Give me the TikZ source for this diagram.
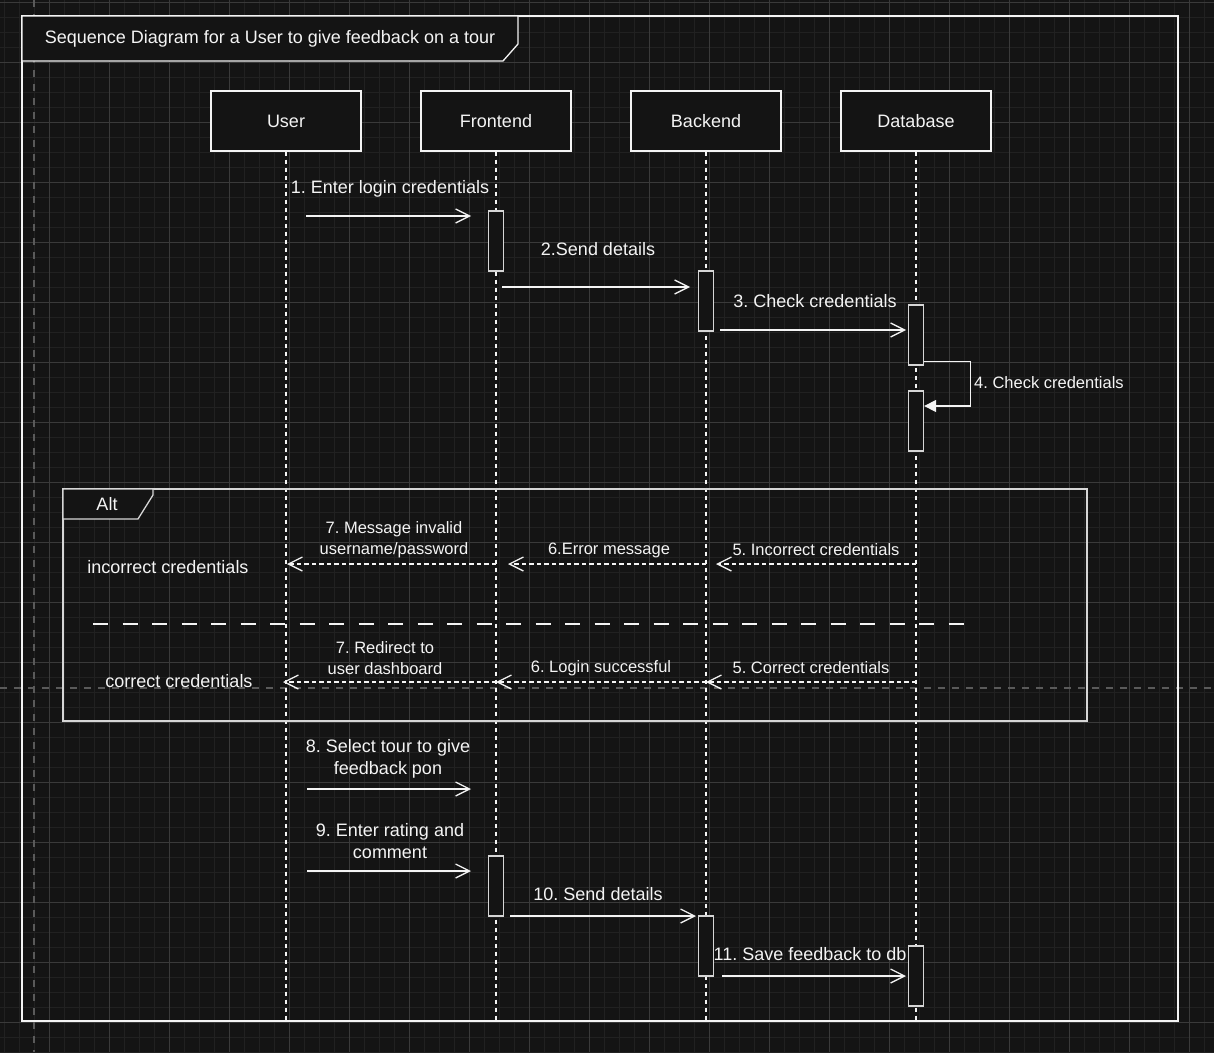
\documentclass[tikz,border=0pt]{standalone}
\usepackage{fontspec}
\setmainfont{Liberation Sans}
\usetikzlibrary{arrows.meta}
\frenchspacing
\definecolor{bg}{HTML}{141414}
\definecolor{gridminor}{HTML}{212121}
\definecolor{gridmajor}{HTML}{3A3A3A}
\definecolor{guide}{HTML}{5A5A5A}
\definecolor{ink}{HTML}{F4F4F4}
\definecolor{softink}{HTML}{D6D6D6}
\newcommand{\bigtext}{\fontsize{18}{21.5}\selectfont}
\newcommand{\smalltext}{\fontsize{16.5}{21}\selectfont}
\tikzset{
  minorline/.style={draw=gridminor, line width=1pt},
  majorline/.style={draw=gridmajor, line width=1pt},
  guideline/.style={draw=guide, line width=1.2pt, dash pattern=on 7pt off 7pt},
  participant/.style={draw=ink, fill=bg, line width=1.3pt, minimum width=150pt,
    minimum height=60pt, inner sep=0pt, text=ink, font=\bigtext},
  lifeline/.style={draw=ink, line width=1.3pt, dash pattern=on 4pt off 4pt},
  actbar/.style={draw=softink, fill=bg, line width=1.3pt, minimum width=15pt,
    minimum height=60pt, inner sep=0pt},
  msg/.style={draw=ink, line width=1.3pt, -{Straight Barb[length=14pt,width=14pt]}},
  reply/.style={draw=ink, line width=1.3pt, dash pattern=on 4.5pt off 3pt,
    -{Straight Barb[length=14pt,width=14pt]}},
  selfmsg/.style={draw=ink, line width=1.3pt, -{Triangle[length=12pt,width=12pt]}},
  lbl/.style={text=ink, inner sep=0pt, font=\bigtext, align=center},
  slbl/.style={text=ink, inner sep=0pt, font=\smalltext, align=center},
}
\begin{document}
\begin{tikzpicture}[x=1pt,y=-1pt]
% canvas and grid
\fill[bg] (0,0) rectangle (1214,1052);
\useasboundingbox (0,0) rectangle (1214,1052);
\foreach \x in {4,19,...,1214} \draw[minorline] (\x,0) -- (\x,1052);
\foreach \y in {2,17,...,1052} \draw[minorline] (0,\y) -- (1214,\y);
\foreach \x in {49,109,...,1214} \draw[majorline] (\x,0) -- (\x,1052);
\foreach \y in {2,62,...,1052} \draw[majorline] (0,\y) -- (1214,\y);
\draw[guideline] (34,0) -- (34,1052);
\draw[guideline] (0,688) -- (1214,688);

% outer frame and its title tab
\draw[draw=ink, line width=1.3pt] (22,16) rectangle (1178,1021);
\draw[draw=ink, fill=bg, line width=1.3pt] (22,16) -- (518,16) -- (518,44) -- (503,61) -- (22,61) -- cycle;
\node[lbl] (title) at (270,39) {Sequence Diagram for a User to give feedback on a tour};

% participants and lifelines
\node[participant] (user) at (286,121) {User};
\node[participant] (front) at (496,121) {Frontend};
\node[participant] (back) at (706,121) {Backend};
\node[participant] (db) at (916,121) {Database};
\coordinate (userEnd) at (286,1021);
\coordinate (frontEnd) at (496,1021);
\coordinate (backEnd) at (706,1021);
\coordinate (dbEnd) at (916,1021);
\draw[lifeline] (user.south) -- (userEnd);
\draw[lifeline] (front.south) -- (frontEnd);
\draw[lifeline] (back.south) -- (backEnd);
\draw[lifeline] (db.south) -- (dbEnd);

% alt combined fragment
\draw[draw=softink, line width=1.3pt] (63,489) rectangle (1087,721);
\draw[draw=softink, fill=bg, line width=1.3pt] (63,489) -- (153,489) -- (153,495) -- (138,519) -- (63,519) -- cycle;
\node[lbl] (alt) at (107,504) {Alt};
\coordinate (divL) at (93,624);
\coordinate (divR) at (968,624);
\draw[draw=ink, line width=1.3pt, dash pattern=on 15pt off 14.5pt] (divL) -- (divR);
\node[lbl, anchor=center] (incorrect) at (168,567) {incorrect credentials};
\node[lbl, anchor=center] (correct) at (179,681) {correct credentials};

% activation bars
\node[actbar] (f1) at (496,241) {};
\node[actbar] (b1) at (706,301) {};
\node[actbar] (d1) at (916,335) {};
\node[actbar] (d2) at (916,421) {};
\node[actbar] (f2) at (496,886) {};
\node[actbar] (b2) at (706,946) {};
\node[actbar] (d3) at (916,976) {};

% message end points
\coordinate (m1s) at (306,216);  \coordinate (m1e) at (471,216);
\coordinate (m2s) at (502,287);  \coordinate (m2e) at (690,287);
\coordinate (m3s) at (720,330);  \coordinate (m3e) at (906,330);
\coordinate (r5as) at (916,564); \coordinate (r5ae) at (716,564);
\coordinate (r6as) at (706,564); \coordinate (r6ae) at (508,564);
\coordinate (r7as) at (496,564); \coordinate (r7ae) at (287,564);
\coordinate (r5bs) at (916,682); \coordinate (r5be) at (706,682);
\coordinate (r6bs) at (706,682); \coordinate (r6be) at (496,682);
\coordinate (r7bs) at (496,682); \coordinate (r7be) at (283,682);
\coordinate (m8s) at (307,789);  \coordinate (m8e) at (471,789);
\coordinate (m9s) at (307,871);  \coordinate (m9e) at (471,871);
\coordinate (m10s) at (510,916); \coordinate (m10e) at (696,916);
\coordinate (m11s) at (722,976); \coordinate (m11e) at (906,976);

% messages
\draw[msg] (m1s) -- (m1e);
\draw[msg] (m2s) -- (m2e);
\draw[msg] (m3s) -- (m3e);
\draw[selfmsg] ([yshift=4pt]d1.south east) -- ++(46,0) |- ([yshift=15pt]d2.east);
\draw[reply] (r5as) -- (r5ae);
\draw[reply] (r6as) -- (r6ae);
\draw[reply] (r7as) -- (r7ae);
\draw[reply] (r5bs) -- (r5be);
\draw[reply] (r6bs) -- (r6be);
\draw[reply] (r7bs) -- (r7be);
\draw[msg] (m8s) -- (m8e);
\draw[msg] (m9s) -- (m9e);
\draw[msg] (m10s) -- (m10e);
\draw[msg] (m11s) -- (m11e);

% message labels
\node[lbl] (l1) at (390,189) {1. Enter login credentials};
\node[lbl] (l2) at (598,249) {2.Send details};
\node[lbl] (l3) at (815,301) {3. Check credentials};
\node[slbl, anchor=west] (l4) at (974,383) {4. Check credentials};
\node[slbl] (l5a) at (816,550) {5. Incorrect credentials};
\node[slbl] (l6a) at (609,550) {6.Error message};
\node[slbl] (l7a) at (394,540) {7. Message invalid\\username/password};
\node[slbl] (l5b) at (811,668) {5. Correct credentials};
\node[slbl] (l6b) at (601,668) {6. Login successful};
\node[slbl] (l7b) at (385,658) {7. Redirect to\\user dashboard};
\node[lbl] (l8) at (388,759) {8. Select tour to give\\feedback pon};
\node[lbl] (l9) at (390,841) {9. Enter rating and\\comment};
\node[lbl] (l10) at (598,894) {10. Send details};
\node[lbl] (l11) at (810,954) {11. Save feedback to db};
\end{tikzpicture}
\end{document}
